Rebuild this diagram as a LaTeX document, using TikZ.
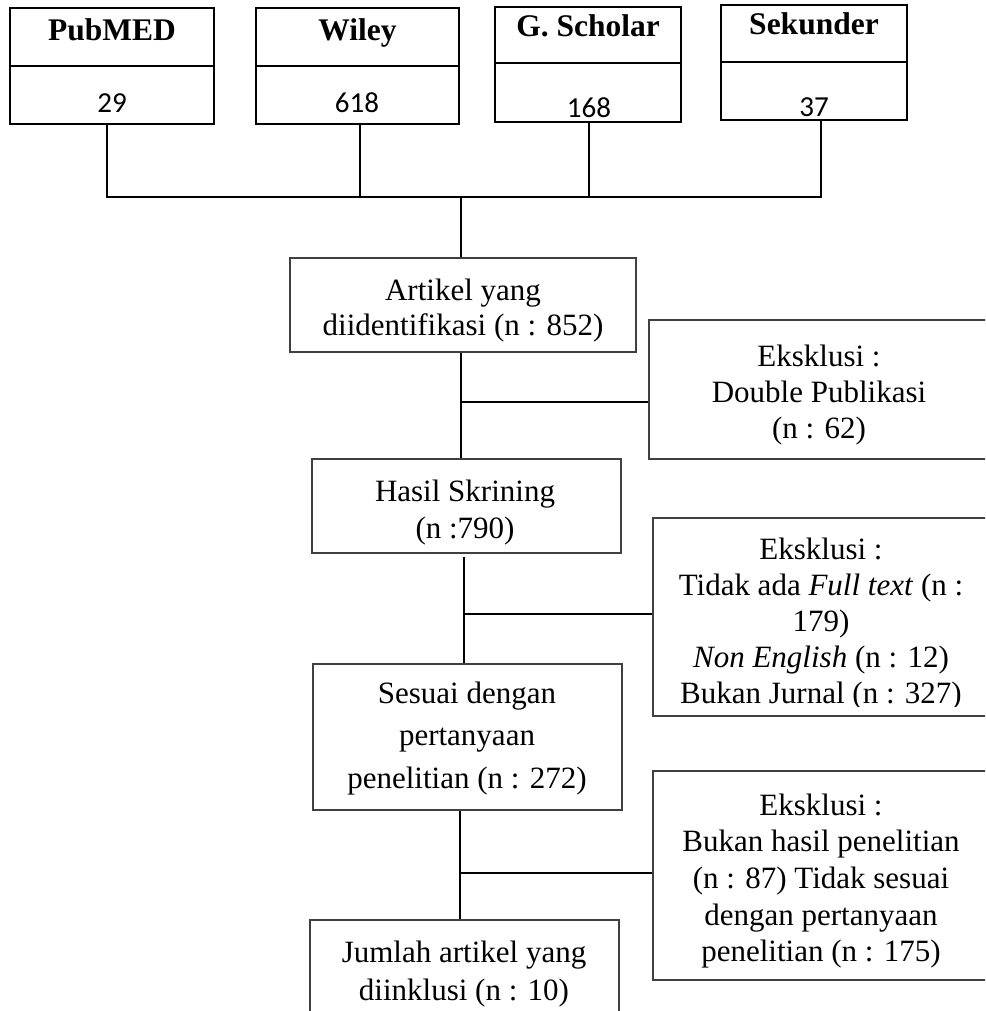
\documentclass[tikz,border=0pt]{standalone}
\usepackage{fontspec}
\setmainfont{Liberation Serif}
\newfontfamily\numfont{Carlito}
\begin{document}
\begin{tikzpicture}[x=1pt,y=-1pt,
  topbox/.style={draw=black, line width=2pt, inner sep=0pt},
  midbox/.style={draw=black!75, line width=1.2pt, inner sep=0pt},
  conn/.style={draw=black, line width=1.8pt},
  txt/.style={font=\fontsize{31}{#1}\selectfont, inner sep=0pt, anchor=base},
  txt/.default=36.5,
  lbl/.style={font=\fontsize{31.5}{36}\selectfont\bfseries, inner sep=0pt, anchor=base},
  num/.style={font=\numfont\fontsize{29}{34}\selectfont, inner sep=0pt, anchor=base}]
\useasboundingbox (0,0) rectangle (985,1011);
\clip (0,0) rectangle (985,1011);
\fill[white] (0,0) rectangle (985,1011);

% top source boxes
\node[topbox, minimum width=204pt, minimum height=116pt] (pub) at (112,66) {};
\node[topbox, minimum width=203pt, minimum height=116pt] (wil) at (357.5,66) {};
\node[topbox, minimum width=186pt, minimum height=115pt] (gsc) at (588,64.5) {};
\node[topbox, minimum width=186pt, minimum height=115pt] (sek) at (814,62.5) {};
\draw[line width=2pt] (pub.west |- 0,66) -- (pub.east |- 0,66);
\draw[line width=2pt] (wil.west |- 0,66) -- (wil.east |- 0,66);
\draw[line width=2pt] (gsc.west |- 0,63) -- (gsc.east |- 0,63);
\draw[line width=2pt] (sek.west |- 0,62) -- (sek.east |- 0,62);
\node[lbl] (tpub) at (112,41) {PubMED};
\node[lbl] (twil) at (357.5,41) {Wiley};
\node[lbl] (tgsc) at (588,37) {G. Scholar};
\node[lbl] (tsek) at (814,35) {Sekunder};
\node[num] (npub) at (112,113) {29};
\node[num] (nwil) at (357,113) {618};
\node[num] (ngsc) at (589,118) {168};
\node[num] (nsek) at (814,117) {37};

% flow boxes
\node[midbox, minimum width=346pt, minimum height=94pt] (art) at (463,305) {};
\node[midbox, minimum width=309pt, minimum height=94pt] (has) at (466.5,506) {};
\node[midbox, minimum width=309pt, minimum height=146pt] (ses) at (467.5,737) {};
\node[midbox, minimum width=309pt, minimum height=140pt] (jum) at (464.5,990) {};
\node[midbox, minimum width=344pt, minimum height=139pt] (ex1) at (821,389.5) {};
\node[midbox, minimum width=340pt, minimum height=198pt] (ex2) at (823,617) {};
\node[midbox, minimum width=340pt, minimum height=209pt] (ex3) at (823,875.5) {};

% texts
\node[txt=35] (tart) at (463,300) {\begin{tabular}[t]{@{}c@{}}Artikel yang\\diidentifikasi (n : 852)\end{tabular}};
\node[txt=37] (thas) at (465,501) {\begin{tabular}[t]{@{}c@{}}Hasil Skrining\\(n :790)\end{tabular}};
\node[txt=42.5] (tses) at (467,703) {\begin{tabular}[t]{@{}c@{}}Sesuai dengan\\pertanyaan\\penelitian (n : 272)\end{tabular}};
\node[txt=38] (tjum) at (464,962) {\begin{tabular}[t]{@{}c@{}}Jumlah artikel yang\\diinklusi (n : 10)\end{tabular}};
\node[txt=36] (tex1) at (819,366) {\begin{tabular}[t]{@{}c@{}}Eksklusi :\\Double Publikasi\\(n : 62)\end{tabular}};
\begin{scope}
\clip (640,500) rectangle (990,706);
\node[txt=36] (tex2) at (821,559) {\begin{tabular}[t]{@{}c@{}}Eksklusi :\\Tidak ada \textit{Full text} (n :\\179)\\\textit{Non English} (n : 12)\\Bukan Jurnal (n : 327)\end{tabular}};
\end{scope}
\node[txt=36.7] (tex3) at (821,815) {\begin{tabular}[t]{@{}c@{}}Eksklusi :\\Bukan hasil penelitian\\(n : 87) Tidak sesuai\\dengan pertanyaan\\penelitian (n : 175)\end{tabular}};

% connectors: sources
\coordinate (jt) at (461,197);
\draw[conn] ([xshift=-5pt]pub.south) |- (jt);
\draw[conn] ([xshift=2.5pt]wil.south) |- (jt);
\draw[conn] ([xshift=1pt]gsc.south) |- (jt);
\draw[conn] ([xshift=7pt]sek.south) |- (jt);
\draw[conn] (jt) -- (jt |- art.north);

% connectors: flow
\coordinate (c1) at (461,402);
\draw[conn] (art.south -| c1) -- (c1 |- has.north);
\draw[conn] (c1) -- (c1 -| ex1.west);
\coordinate (c2) at (464,614);
\draw[conn] ([yshift=-3pt]has.south -| c2) -- (c2 |- ses.north);
\draw[conn] (c2) -- (c2 -| ex2.west);
\coordinate (c3) at (460,873);
\draw[conn] (ses.south -| c3) -- (c3 |- jum.north);
\draw[conn] (c3) -- (c3 -| ex3.west);
\end{tikzpicture}
\end{document}
